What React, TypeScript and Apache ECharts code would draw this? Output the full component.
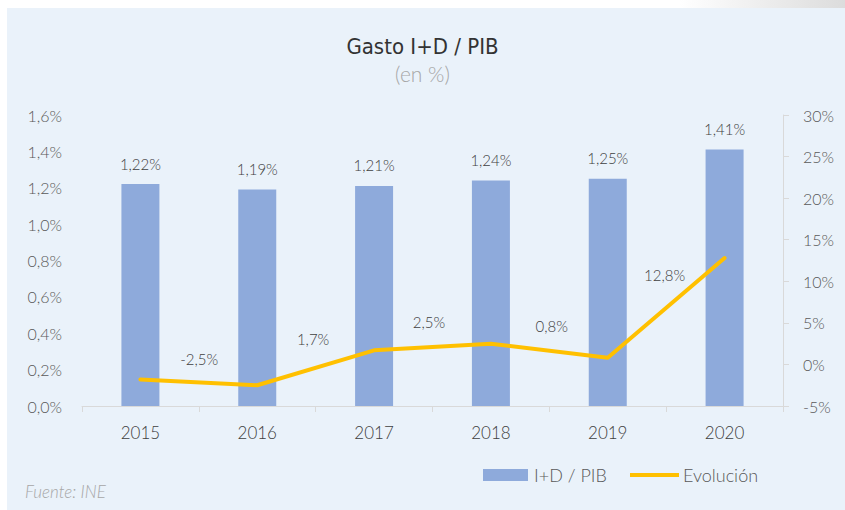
import React, { useEffect, useRef } from "react";
import * as echarts from "echarts";

const years = ["2015", "2016", "2017", "2018", "2019", "2020"];
const gastoPIB = [1.22, 1.19, 1.21, 1.24, 1.25, 1.41];
const evolucion = [-1.8, -2.5, 1.7, 2.5, 0.8, 12.8];
const leftTicks = { min: 0, max: 1.6, interval: 0.2 };
const rightTicks = { min: -5, max: 30, interval: 5 };

// label placement (style), index-aligned with evolucion
const LINE_LABEL_OFFSETS: ([number, number] | null)[] = [
  null,
  [-58, -26],
  [-61, -11],
  [-62, -22],
  [-56, -32],
  [-60, 17],
];

const FONT = "Lato, 'Open Sans', sans-serif";
const TXT = "#595959";
const W = 300;

export default function App() {
  const ref = useRef<HTMLDivElement>(null);
  useEffect(() => {
    if (!ref.current) return;
    const chart = echarts.init(ref.current, null, { renderer: "svg" });
    const lineData = evolucion.map((v, i) => {
      const off = LINE_LABEL_OFFSETS[i];
      return {
        value: v,
        label: off
          ? { show: true, position: "inside", offset: off }
          : { show: false },
      };
    });
    chart.setOption({
      animation: false,
      backgroundColor: "#ffffff",
      textStyle: { fontFamily: FONT },
      graphic: [
        {
          type: "rect",
          z: -10,
          shape: { x: 680, y: 0, width: 165, height: 8 },
          style: {
            fill: new echarts.graphic.LinearGradient(0, 0, 1, 0, [
              { offset: 0, color: "#ffffff" },
              { offset: 1, color: "#dcdcdc" },
            ]),
          },
        },
        {
          type: "rect",
          z: -10,
          shape: { x: 7, y: 8, width: 838, height: 502 },
          style: { fill: "#EAF2FA" },
        },
        {
          type: "text",
          left: 25,
          top: 483,
          style: {
            text: "Fuente: INE",
            fill: "#A6A6A6",
            font: "italic 300 17px " + FONT,
          },
        },
      ],
      title: {
        text: "Gasto I+D / PIB",
        subtext: "(en %)",
        left: "center",
        top: 29,
        itemGap: 4,
        textStyle: {
          fontFamily: "'Liberation Sans Narrow', 'DejaVu Sans Condensed', sans-serif",
          fontSize: 22,
          fontWeight: "normal",
          color: "#333333",
          lineHeight: 24,
        },
        subtextStyle: {
          fontFamily: FONT,
          fontSize: 21,
          fontWeight: W,
          color: "#A6A6A6",
          lineHeight: 22,
        },
      },
      legend: [
        {
          data: [{ name: "I+D / PIB", icon: "rect" }],
          left: 483,
          top: 466,
          itemWidth: 45,
          itemHeight: 12,
          itemGap: 6,
          textStyle: { color: TXT, fontSize: 18, fontWeight: W, fontFamily: FONT, padding: [0, 0, 0, 1] },
          padding: 0,
          selectedMode: false,
        },
        {
          data: [{ name: "Evolución", icon: "rect" }],
          left: 630,
          top: 466,
          itemWidth: 49,
          itemHeight: 4,
          textStyle: { color: TXT, fontSize: 18, fontWeight: W, fontFamily: FONT, padding: [0, 0, 0, -1] },
          padding: 0,
          selectedMode: false,
        },
      ],
      grid: { left: 82, right: 62, top: 115, bottom: 104 },
      xAxis: {
        type: "category",
        data: years,
        boundaryGap: true,
        axisLine: { show: true, lineStyle: { color: "#D9D9D9", width: 1 } },
        axisTick: { show: true, length: 6, lineStyle: { color: "#D9D9D9" } },
        axisLabel: { color: "#404040", fontSize: 17, fontWeight: W, margin: 18, fontFamily: FONT },
      },
      yAxis: [
        {
          type: "value",
          min: leftTicks.min,
          max: leftTicks.max,
          interval: leftTicks.interval,
          axisLine: { show: false },
          axisTick: { show: false },
          splitLine: { show: false },
          axisLabel: {
            color: TXT,
            fontSize: 16,
            fontWeight: W,
            margin: 20,
            fontFamily: FONT,
            formatter: (v: number) => v.toFixed(1).replace(".", ",") + "%",
          },
        },
        {
          type: "value",
          min: rightTicks.min,
          max: rightTicks.max,
          interval: rightTicks.interval,
          position: "right",
          axisLine: { show: true, lineStyle: { color: "#D9D9D9" } },
          axisTick: { show: true, length: 6, lineStyle: { color: "#D9D9D9" } },
          splitLine: { show: false },
          axisLabel: {
            color: TXT,
            fontSize: 16,
            fontWeight: W,
            margin: 20,
            fontFamily: FONT,
            formatter: (v: number) => v + "%",
          },
        },
      ],
      series: [
        {
          name: "I+D / PIB",
          type: "bar",
          yAxisIndex: 0,
          data: gastoPIB,
          barWidth: 38,
          itemStyle: { color: "#8EAADB" },
          label: {
            show: true,
            position: "top",
            distance: 13,
            color: "#404040",
            fontSize: 15,
            fontWeight: W,
            fontFamily: FONT,
            formatter: (p: any) => p.value.toFixed(2).replace(".", ",") + "%",
          },
        },
        {
          name: "Evolución",
          type: "line",
          yAxisIndex: 1,
          data: lineData,
          symbol: "circle",
          symbolSize: 0.1,
          showSymbol: true,
          itemStyle: { color: "#FFC000" },
          lineStyle: { color: "#FFC000", width: 4, cap: "round", join: "round" },
          label: {
            color: "#404040",
            fontSize: 15,
            fontWeight: W,
            fontFamily: FONT,
            formatter: (p: any) => p.value.toFixed(1).replace(".", ",") + "%",
          },
          z: 3,
        },
      ],
    });
    return () => chart.dispose();
  }, []);
  return (
    <div
      ref={ref}
      style={{ position: "absolute", left: 0, top: 0, width: 845, height: 510 }}
    />
  );
}
